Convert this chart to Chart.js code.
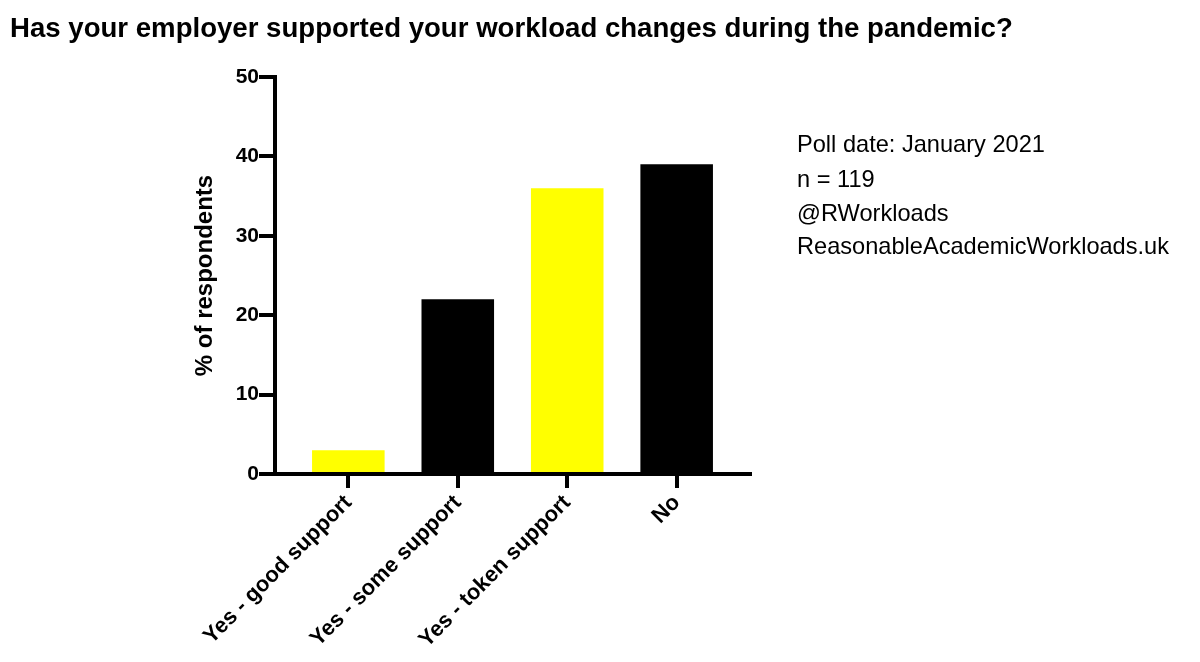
<!DOCTYPE html>
<html>
<head>
<meta charset="utf-8">
<title>Workload support poll</title>
<script src="https://cdn.jsdelivr.net/npm/chart.js@4.4.1/dist/chart.umd.min.js"></script>
<style>
  html, body { margin: 0; padding: 0; background: #fff; }
  #wrap { position: relative; width: 1200px; height: 662px; overflow: hidden; font-family: "Liberation Sans", Arial, sans-serif; color: #000; }
  #myChart { position: absolute; left: 0; top: 0; }
  .title { position: absolute; left: 10px; top: 14px; font-size: 27.6px; line-height: 27px; font-weight: bold; white-space: nowrap; }
  .note { position: absolute; left: 797px; font-size: 23.6px; line-height: 23px; white-space: nowrap; }
</style>
</head>
<body>
<div id="wrap">
  <canvas id="myChart" width="1200" height="662"></canvas>
  <div class="title">Has your employer supported your workload changes during the pandemic?</div>
  <div class="note" style="top:133px">Poll date: January 2021</div>
  <div class="note" style="top:168px">n = 119</div>
  <div class="note" style="top:202px">@RWorkloads</div>
  <div class="note" style="top:235px">ReasonableAcademicWorkloads.uk</div>
</div>
<script>

// dati

var categories = ['Yes - good support', 'Yes - some support', 'Yes - token support', 'No'];
var percentages = [3, 22, 36, 39];
var yTickValues = [0, 10, 20, 30, 40, 50];

var barColors = ['#ffff00', '#000000', '#ffff00', '#000000'];

var font = 'Liberation Sans';

// bars go on a linear x so the axis can run past the outer bars
var points = categories.map(function(c, i){
  return { x: i, y: percentages[i] };
});

var ctx = document.getElementById('myChart');
var chart = new Chart(ctx, {

  type: 'bar',

  data: {
    datasets: [{
      label: '% of respondents',
      data: points,
      backgroundColor: barColors,
      borderWidth: 0,
      categoryPercentage: 1,
      barPercentage: 0.663
    }]
  },

  options: {
    responsive: false,
    animation: false,
    layout: {
      padding: { left: 191, right: 450, top: 77, bottom: 0 }
    },
    plugins: {
      legend: { display: false },
      tooltip: { enabled: false }
    },
    scales: {
      x: {
        type: 'linear',
        offset: false,
        min: -0.67,
        max: 3.67,
        afterBuildTicks: function(scale){
          scale.ticks = categories.map(function(c, i){ return { value: i }; });
        },
        afterFit: function(scale){
          scale.height = 188;
          scale.paddingLeft = 0;
          scale.paddingRight = 0;
        },
        border: { display: true, color: '#000', width: 4 },
        grid: {
          offset: false,
          drawOnChartArea: false,
          drawTicks: true,
          tickLength: 14,
          lineWidth: 4,
          color: '#000'
        },
        ticks: {
          autoSkip: false,
          minRotation: 45,
          maxRotation: 45,
          padding: 2,
          color: '#000',
          font: { family: font, size: 22, weight: 'bold' },
          callback: function(value){
            return categories[value];
          }
        }
      },
      y: {
        min: 0,
        max: 50,
        afterBuildTicks: function(scale){
          scale.ticks = yTickValues.map(function(v){ return { value: v }; });
        },
        afterFit: function(scale){
          scale.width = 84;
        },
        border: { display: true, color: '#000', width: 4 },
        grid: {
          drawOnChartArea: false,
          drawTicks: true,
          tickLength: 16,
          lineWidth: 4,
          color: '#000'
        },
        ticks: {
          padding: 0,
          color: '#000',
          font: { family: font, size: 21, weight: 'bold' }
        },
        title: {
          display: true,
          text: '% of respondents',
          color: '#000',
          padding: 0,
          font: { family: font, size: 24, weight: 'bold' }
        }
      }
    }
  }
});

</script>
</body>
</html>
